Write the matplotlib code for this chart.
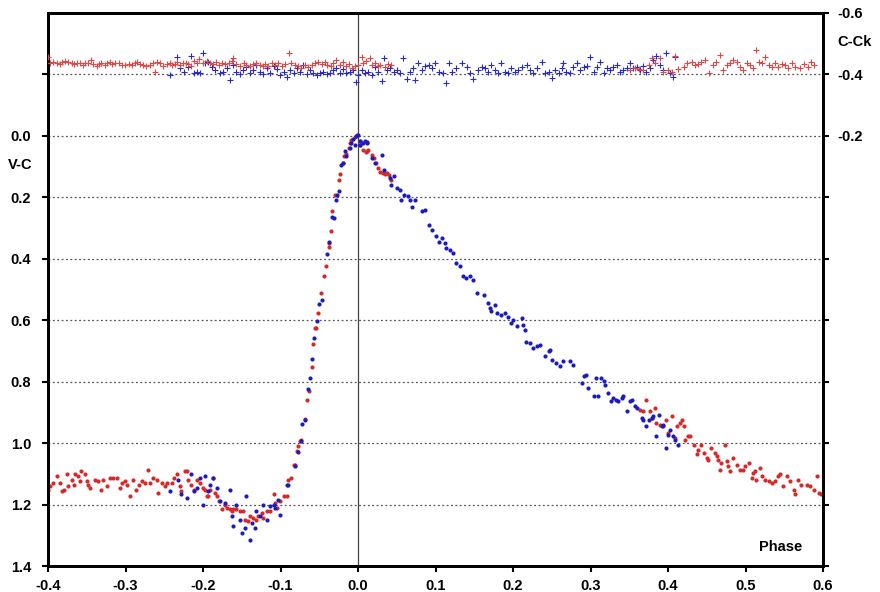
import numpy as np
import matplotlib
matplotlib.use("Agg")
import matplotlib.pyplot as plt
from matplotlib.ticker import FixedLocator, FuncFormatter

plt.rcParams['font.family'] = ['Liberation Sans', 'DejaVu Sans']
plt.rcParams['font.weight'] = 'bold'

# V-C light curve, red run (phase, mag)
red_vc = [
    (-0.400, 1.151), (-0.397, 1.140), (-0.393, 1.130), (-0.389, 1.108), (-0.385, 1.130), (-0.382, 1.157),
    (-0.380, 1.151), (-0.376, 1.102), (-0.374, 1.140), (-0.369, 1.119), (-0.367, 1.135), (-0.365, 1.102),
    (-0.361, 1.108), (-0.359, 1.124), (-0.357, 1.092), (-0.352, 1.102), (-0.350, 1.124), (-0.348, 1.135),
    (-0.346, 1.146), (-0.339, 1.119), (-0.335, 1.124), (-0.331, 1.151), (-0.329, 1.119), (-0.324, 1.140),
    (-0.320, 1.113), (-0.316, 1.113), (-0.311, 1.113), (-0.307, 1.146), (-0.305, 1.130), (-0.301, 1.124),
    (-0.298, 1.135), (-0.294, 1.173), (-0.290, 1.119), (-0.286, 1.151), (-0.283, 1.135), (-0.279, 1.124),
    (-0.275, 1.130), (-0.271, 1.086), (-0.268, 1.130), (-0.264, 1.113), (-0.260, 1.119), (-0.258, 1.162),
    (-0.253, 1.130), (-0.249, 1.140), (-0.247, 1.130), (-0.240, 1.130), (-0.238, 1.113), (-0.234, 1.102),
    (-0.230, 1.140), (-0.228, 1.157), (-0.223, 1.092), (-0.221, 1.092), (-0.219, 1.119), (-0.215, 1.135),
    (-0.212, 1.151), (-0.208, 1.119), (-0.204, 1.130), (-0.200, 1.146), (-0.197, 1.151), (-0.195, 1.173),
    (-0.193, 1.173), (-0.191, 1.151), (-0.187, 1.113), (-0.185, 1.162), (-0.182, 1.173), (-0.180, 1.189),
    (-0.176, 1.216), (-0.172, 1.200), (-0.169, 1.211), (-0.165, 1.216), (-0.163, 1.222), (-0.161, 1.216),
    (-0.157, 1.216), (-0.152, 1.222), (-0.148, 1.222), (-0.146, 1.249), (-0.142, 1.254), (-0.139, 1.238),
    (-0.135, 1.243), (-0.131, 1.249), (-0.129, 1.238), (-0.124, 1.227), (-0.122, 1.243), (-0.118, 1.222),
    (-0.114, 1.222), (-0.109, 1.167), (-0.107, 1.195), (-0.105, 1.211), (-0.101, 1.189), (-0.096, 1.173),
    (-0.092, 1.173), (-0.090, 1.119), (-0.086, 1.113), (-0.083, 1.070), (-0.081, 1.070), (-0.079, 1.027),
    (-0.077, 1.010), (-0.075, 0.994), (-0.073, 0.989), (-0.069, 0.921), (-0.066, 0.861), (-0.063, 0.829),
    (-0.060, 0.753), (-0.058, 0.678), (-0.054, 0.625), (-0.055, 0.625), (-0.051, 0.577), (-0.048, 0.512),
    (-0.044, 0.457), (-0.041, 0.423), (-0.038, 0.362), (-0.037, 0.349), (-0.035, 0.311), (-0.033, 0.246),
    (-0.030, 0.192), (-0.025, 0.143), (-0.023, 0.124), (-0.020, 0.089), (-0.018, 0.065), (-0.015, 0.059),
    (-0.012, 0.040), (-0.010, 0.022), (-0.009, 0.013), (-0.004, 0.004), (-0.001, -0.003), (0.002, 0.018),
    (0.003, 0.029), (0.007, 0.046), (0.010, 0.051), (0.012, 0.048), (0.013, 0.046), (0.018, 0.062),
    (0.020, 0.073), (0.023, 0.089), (0.026, 0.105), (0.029, 0.116), (0.032, 0.121), (0.035, 0.125),
    (0.038, 0.121), (0.040, 0.127), (0.043, 0.143),
    (0.364, 0.891), (0.368, 0.896), (0.372, 0.861), (0.377, 0.896), (0.379, 0.918), (0.383, 0.886),
    (0.385, 0.934), (0.390, 0.940), (0.394, 0.945), (0.398, 0.924), (0.400, 0.967), (0.405, 0.913),
    (0.409, 0.983), (0.411, 0.945), (0.416, 0.934), (0.418, 0.924), (0.420, 0.945), (0.422, 0.989),
    (0.426, 0.978), (0.428, 0.976), (0.433, 1.005), (0.437, 1.037), (0.439, 1.021), (0.443, 1.005),
    (0.446, 1.032), (0.450, 1.048), (0.452, 1.054), (0.456, 1.016), (0.461, 1.032), (0.463, 1.043),
    (0.465, 1.054), (0.467, 1.086), (0.469, 1.065), (0.474, 1.005), (0.476, 1.059), (0.478, 1.075),
    (0.480, 1.092), (0.484, 1.048), (0.489, 1.070), (0.493, 1.086), (0.497, 1.086), (0.499, 1.075),
    (0.504, 1.065), (0.508, 1.113), (0.510, 1.097), (0.512, 1.092), (0.514, 1.119), (0.519, 1.081),
    (0.521, 1.108), (0.525, 1.119), (0.530, 1.124), (0.534, 1.130), (0.538, 1.124), (0.542, 1.108),
    (0.545, 1.102), (0.549, 1.140), (0.553, 1.108), (0.557, 1.124), (0.562, 1.151), (0.564, 1.167),
    (0.568, 1.119), (0.572, 1.135), (0.579, 1.135), (0.583, 1.140), (0.588, 1.151), (0.592, 1.108),
    (0.595, 1.162), (0.598, 1.167),
]

# V-C light curve, blue run
blue_vc = [
    (-0.243, 1.157), (-0.232, 1.119), (-0.228, 1.167), (-0.221, 1.178), (-0.215, 1.102), (-0.212, 1.157),
    (-0.208, 1.146), (-0.204, 1.113), (-0.200, 1.200), (-0.197, 1.108), (-0.193, 1.157), (-0.191, 1.135),
    (-0.187, 1.113), (-0.182, 1.146), (-0.178, 1.189), (-0.172, 1.195), (-0.165, 1.151), (-0.163, 1.238),
    (-0.161, 1.270), (-0.157, 1.200), (-0.152, 1.249), (-0.150, 1.292), (-0.146, 1.276), (-0.144, 1.173),
    (-0.140, 1.314), (-0.137, 1.260), (-0.133, 1.276), (-0.131, 1.222), (-0.126, 1.238), (-0.122, 1.200),
    (-0.118, 1.249), (-0.114, 1.205), (-0.109, 1.200), (-0.107, 1.211), (-0.103, 1.184), (-0.101, 1.233),
    (-0.092, 1.135), (-0.090, 1.135), (-0.081, 1.075), (-0.078, 1.030), (-0.074, 0.994), (-0.072, 0.938),
    (-0.068, 0.924), (-0.065, 0.823), (-0.062, 0.788), (-0.059, 0.725), (-0.057, 0.658), (-0.053, 0.604),
    (-0.050, 0.546), (-0.047, 0.533), (-0.040, 0.385), (-0.037, 0.347), (-0.034, 0.264), (-0.031, 0.268),
    (-0.028, 0.210), (-0.027, 0.192), (-0.025, 0.181), (-0.022, 0.094), (-0.020, 0.089), (-0.017, 0.049),
    (-0.015, 0.065), (-0.010, 0.038), (-0.009, 0.024), (-0.006, 0.011), (-0.004, 0.029), (-0.003, 0.000),
    (0.000, -0.003), (0.002, 0.029), (0.003, 0.018), (0.007, 0.022), (0.009, 0.018), (0.011, 0.021),
    (0.012, 0.024), (0.018, 0.073), (0.022, 0.089), (0.031, 0.062), (0.033, 0.111), (0.041, 0.138),
    (0.043, 0.159), (0.046, 0.132), (0.050, 0.170), (0.054, 0.176), (0.056, 0.208), (0.059, 0.192),
    (0.064, 0.197), (0.067, 0.208), (0.070, 0.230), (0.074, 0.208), (0.082, 0.246), (0.087, 0.241),
    (0.091, 0.289), (0.095, 0.306), (0.101, 0.327), (0.104, 0.344), (0.108, 0.333), (0.112, 0.349),
    (0.114, 0.365), (0.119, 0.371), (0.122, 0.382), (0.127, 0.414), (0.132, 0.425), (0.136, 0.457),
    (0.139, 0.463), (0.145, 0.457), (0.149, 0.468), (0.153, 0.512), (0.162, 0.517), (0.168, 0.544),
    (0.170, 0.560), (0.172, 0.571), (0.177, 0.550), (0.179, 0.577), (0.185, 0.582), (0.190, 0.577),
    (0.194, 0.588), (0.198, 0.609), (0.200, 0.598), (0.205, 0.620), (0.211, 0.593), (0.213, 0.615),
    (0.215, 0.631), (0.217, 0.672), (0.222, 0.674), (0.226, 0.691), (0.231, 0.685), (0.235, 0.680),
    (0.241, 0.718), (0.246, 0.701), (0.248, 0.696), (0.250, 0.728), (0.256, 0.739), (0.261, 0.750),
    (0.265, 0.734), (0.274, 0.734), (0.278, 0.745), (0.289, 0.804), (0.291, 0.783), (0.294, 0.777),
    (0.297, 0.821), (0.304, 0.848), (0.307, 0.788), (0.310, 0.848), (0.313, 0.788), (0.317, 0.799),
    (0.319, 0.810), (0.323, 0.837), (0.326, 0.864), (0.329, 0.853), (0.333, 0.859), (0.336, 0.864),
    (0.340, 0.853), (0.342, 0.848), (0.347, 0.896), (0.351, 0.864), (0.353, 0.859), (0.357, 0.880),
    (0.360, 0.886), (0.366, 0.918), (0.368, 0.924), (0.372, 0.945), (0.375, 0.924), (0.379, 0.918),
    (0.381, 0.913), (0.385, 0.978), (0.388, 0.907), (0.392, 0.945), (0.394, 0.940), (0.397, 1.016),
    (0.400, 0.972), (0.403, 0.956), (0.407, 0.978), (0.409, 0.989), (0.413, 1.005),
]

# C-Ck check star, right axis
red_ck = [
    (-0.400, -0.458), (-0.397, -0.438), (-0.393, -0.442), (-0.389, -0.436), (-0.385, -0.434), (-0.382, -0.440),
    (-0.378, -0.445), (-0.374, -0.442), (-0.369, -0.438), (-0.367, -0.434), (-0.363, -0.436), (-0.359, -0.438),
    (-0.355, -0.431), (-0.352, -0.436), (-0.348, -0.438), (-0.345, -0.447), (-0.342, -0.434), (-0.337, -0.428),
    (-0.334, -0.434), (-0.331, -0.438), (-0.326, -0.431), (-0.324, -0.436), (-0.320, -0.442), (-0.317, -0.434),
    (-0.314, -0.438), (-0.309, -0.436), (-0.305, -0.432), (-0.301, -0.430), (-0.296, -0.434), (-0.292, -0.432),
    (-0.288, -0.436), (-0.285, -0.441), (-0.281, -0.434), (-0.277, -0.432), (-0.273, -0.428), (-0.268, -0.432),
    (-0.265, -0.438), (-0.262, -0.409), (-0.259, -0.442), (-0.255, -0.436), (-0.251, -0.428), (-0.247, -0.434),
    (-0.243, -0.438), (-0.240, -0.432), (-0.236, -0.434), (-0.233, -0.441), (-0.230, -0.431), (-0.226, -0.436),
    (-0.222, -0.438), (-0.219, -0.434), (-0.215, -0.428), (-0.212, -0.445), (-0.208, -0.438), (-0.205, -0.449),
    (-0.200, -0.436), (-0.195, -0.443), (-0.191, -0.438), (-0.187, -0.434), (-0.183, -0.441), (-0.180, -0.432),
    (-0.176, -0.438), (-0.172, -0.434), (-0.167, -0.436), (-0.163, -0.443), (-0.161, -0.453), (-0.157, -0.434),
    (-0.152, -0.428), (-0.147, -0.438), (-0.144, -0.432), (-0.139, -0.426), (-0.135, -0.434), (-0.131, -0.438),
    (-0.127, -0.432), (-0.123, -0.428), (-0.120, -0.434), (-0.116, -0.426), (-0.111, -0.438), (-0.107, -0.432),
    (-0.103, -0.436), (-0.098, -0.426), (-0.094, -0.434), (-0.089, -0.469), (-0.086, -0.436), (-0.081, -0.430),
    (-0.077, -0.426), (-0.073, -0.421), (-0.068, -0.430), (-0.064, -0.423), (-0.060, -0.431), (-0.055, -0.436),
    (-0.051, -0.442), (-0.047, -0.434), (-0.043, -0.441), (-0.040, -0.432), (-0.035, -0.428), (-0.032, -0.436),
    (-0.028, -0.447), (-0.023, -0.431), (-0.019, -0.441), (-0.015, -0.426), (-0.012, -0.434), (-0.008, -0.421),
    (-0.004, -0.428), (0.000, -0.431), (0.005, -0.458), (0.007, -0.436), (0.010, -0.445), (0.015, -0.453),
    (0.018, -0.431), (0.022, -0.438), (0.026, -0.426), (0.029, -0.432), (0.035, -0.423), (0.039, -0.434),
    (0.043, -0.432),
    (0.351, -0.415), (0.358, -0.420), (0.362, -0.417), (0.368, -0.413), (0.375, -0.431), (0.379, -0.453),
    (0.383, -0.436), (0.390, -0.453), (0.394, -0.409), (0.400, -0.415), (0.405, -0.409), (0.409, -0.460),
    (0.413, -0.417), (0.420, -0.425), (0.424, -0.436), (0.431, -0.442), (0.435, -0.431), (0.439, -0.434),
    (0.443, -0.442), (0.448, -0.447), (0.453, -0.404), (0.458, -0.431), (0.462, -0.442), (0.467, -0.463),
    (0.471, -0.415), (0.476, -0.431), (0.480, -0.436), (0.484, -0.447), (0.489, -0.442), (0.493, -0.425),
    (0.497, -0.415), (0.502, -0.436), (0.506, -0.431), (0.510, -0.420), (0.514, -0.480), (0.517, -0.442),
    (0.521, -0.436), (0.525, -0.458), (0.530, -0.431), (0.534, -0.425), (0.538, -0.436), (0.542, -0.425),
    (0.547, -0.434), (0.551, -0.431), (0.555, -0.420), (0.560, -0.436), (0.564, -0.425), (0.570, -0.420),
    (0.575, -0.434), (0.581, -0.425), (0.585, -0.442), (0.588, -0.431),
]

blue_ck = [
    (-0.243, -0.398), (-0.234, -0.458), (-0.230, -0.420), (-0.225, -0.409), (-0.219, -0.425), (-0.215, -0.460),
    (-0.212, -0.404), (-0.208, -0.409), (-0.204, -0.406), (-0.200, -0.469), (-0.197, -0.436), (-0.193, -0.442),
    (-0.189, -0.425), (-0.185, -0.415), (-0.178, -0.404), (-0.174, -0.409), (-0.169, -0.420), (-0.165, -0.382),
    (-0.161, -0.431), (-0.157, -0.409), (-0.152, -0.402), (-0.148, -0.415), (-0.144, -0.425), (-0.139, -0.404),
    (-0.135, -0.415), (-0.131, -0.431), (-0.126, -0.409), (-0.122, -0.401), (-0.118, -0.420), (-0.114, -0.406),
    (-0.109, -0.428), (-0.105, -0.417), (-0.101, -0.398), (-0.096, -0.409), (-0.092, -0.391), (-0.088, -0.415),
    (-0.083, -0.404), (-0.079, -0.420), (-0.075, -0.409), (-0.071, -0.431), (-0.066, -0.402), (-0.062, -0.415),
    (-0.058, -0.404), (-0.053, -0.398), (-0.049, -0.404), (-0.045, -0.409), (-0.040, -0.401), (-0.036, -0.404),
    (-0.032, -0.413), (-0.028, -0.420), (-0.023, -0.406), (-0.019, -0.417), (-0.015, -0.404), (-0.010, -0.409),
    (-0.006, -0.415), (-0.002, -0.377), (0.000, -0.398), (0.005, -0.415), (0.009, -0.404), (0.013, -0.409),
    (0.018, -0.398), (0.022, -0.425), (0.026, -0.409), (0.031, -0.380), (0.033, -0.453), (0.037, -0.415),
    (0.041, -0.420), (0.046, -0.409), (0.050, -0.413), (0.054, -0.404), (0.058, -0.453), (0.063, -0.384),
    (0.067, -0.409), (0.071, -0.420), (0.074, -0.382), (0.078, -0.438), (0.082, -0.415), (0.086, -0.428),
    (0.091, -0.431), (0.095, -0.420), (0.099, -0.436), (0.104, -0.409), (0.110, -0.404), (0.114, -0.371),
    (0.117, -0.436), (0.121, -0.409), (0.127, -0.420), (0.134, -0.436), (0.140, -0.425), (0.145, -0.404),
    (0.149, -0.384), (0.155, -0.415), (0.160, -0.425), (0.164, -0.420), (0.168, -0.409), (0.172, -0.431),
    (0.177, -0.415), (0.181, -0.404), (0.185, -0.436), (0.190, -0.409), (0.194, -0.404), (0.198, -0.420),
    (0.203, -0.409), (0.207, -0.415), (0.211, -0.425), (0.218, -0.431), (0.222, -0.415), (0.226, -0.404),
    (0.231, -0.420), (0.237, -0.442), (0.241, -0.404), (0.246, -0.409), (0.250, -0.387), (0.254, -0.415),
    (0.259, -0.404), (0.263, -0.420), (0.265, -0.436), (0.269, -0.409), (0.274, -0.404), (0.278, -0.425),
    (0.282, -0.436), (0.287, -0.415), (0.291, -0.423), (0.295, -0.428), (0.299, -0.458), (0.304, -0.409),
    (0.308, -0.425), (0.312, -0.442), (0.317, -0.404), (0.321, -0.420), (0.325, -0.415), (0.329, -0.425),
    (0.334, -0.431), (0.338, -0.409), (0.342, -0.415), (0.347, -0.420), (0.351, -0.436), (0.355, -0.420),
    (0.360, -0.425), (0.364, -0.415), (0.368, -0.428), (0.372, -0.409), (0.377, -0.420), (0.381, -0.447),
    (0.385, -0.460), (0.390, -0.431), (0.394, -0.415), (0.398, -0.469), (0.403, -0.404), (0.406, -0.393),
    (0.409, -0.458),
]

x_ticks = [-0.4, -0.3, -0.2, -0.1, 0.0, 0.1, 0.2, 0.3, 0.4, 0.5, 0.6]
vc_ticks = [-0.2, 0.0, 0.2, 0.4, 0.6, 0.8, 1.0, 1.2, 1.4]
vc_labels = [0.0, 0.2, 0.4, 0.6, 0.8, 1.0, 1.2, 1.4]
ck_ticks = [-0.6, -0.4, -0.2, 0.0, 0.2, 0.4, 0.6, 0.8, 1.0, 1.2]
ck_labels = [-0.6, -0.4, -0.2]
grid_levels = [-0.2, 0.0, 0.2, 0.4, 0.6, 0.8, 1.0, 1.2]

RED = "#d62a2a"
BLUE = "#1c1cbe"
RED_CK = "#e04848"
BLUE_CK = "#2a2ac8"

fig = plt.figure(figsize=(8.8, 5.92), dpi=100)
ax = fig.add_axes([48 / 880, 26 / 592, 775 / 880, 553 / 592])
ax.set_xlim(-0.4, 0.6)
ax.set_ylim(1.4, -0.4)

for lev in grid_levels:
    ax.axhline(lev, color="#555555", lw=0.9, ls=(0, (1.5, 2)), zorder=1)
ax.axvline(0.0, color="#444444", lw=0.9, zorder=1)

ax2 = ax.twinx()
ax2.set_ylim(1.2, -0.6)

rv = np.array(red_vc)
bv = np.array(blue_vc)
rc = np.array(red_ck)
bc = np.array(blue_ck)

ax.scatter(rv[:, 0], rv[:, 1], s=9, color=RED, lw=0, zorder=3)
ax.scatter(bv[:, 0], bv[:, 1], s=9, color=BLUE, lw=0, zorder=3)
ax2.scatter(bc[:, 0], bc[:, 1], s=13, marker="+", color=BLUE_CK, lw=0.8, zorder=3)
ax2.scatter(rc[:, 0], rc[:, 1], s=13, marker="+", color=RED_CK, lw=0.8, zorder=3)

ax.xaxis.set_major_locator(FixedLocator(x_ticks))
ax.xaxis.set_major_formatter(FuncFormatter(lambda v, p: f"{v:.1f}"))
ax.yaxis.set_major_locator(FixedLocator(vc_ticks))
ax.yaxis.set_major_formatter(FuncFormatter(
    lambda v, p: f"{v:.1f}" if any(abs(v - l) < 1e-6 for l in vc_labels) else ""))
ax2.yaxis.set_major_locator(FixedLocator(ck_ticks))
ax2.yaxis.set_major_formatter(FuncFormatter(
    lambda v, p: f"{v:.1f}" if any(abs(v - l) < 1e-6 for l in ck_labels) else ""))

for a in (ax, ax2):
    for s in a.spines.values():
        s.set_linewidth(2.0)
        s.set_color("black")
ax.tick_params(axis="both", direction="out", length=4, width=1.5, labelsize=10.5, pad=5)
ax.tick_params(axis="y", pad=8)
ax2.tick_params(axis="y", direction="out", length=4, width=1.5, labelsize=10.5, pad=6)
for lab in ax.get_xticklabels() + ax.get_yticklabels() + ax2.get_yticklabels():
    lab.set_fontweight("bold")

fig.text(20 / 880, 1 - 165 / 592, "V-C", fontsize=10.5, fontweight="bold", ha="center", va="center")
fig.text(855 / 880, 1 - 42 / 592, "C-Ck", fontsize=10.5, fontweight="bold", ha="center", va="center")
ax.text(0.945, 0.034, "Phase", transform=ax.transAxes, fontsize=10.5, fontweight="bold",
        ha="center", va="center")

fig.savefig("out.png", dpi=100)
